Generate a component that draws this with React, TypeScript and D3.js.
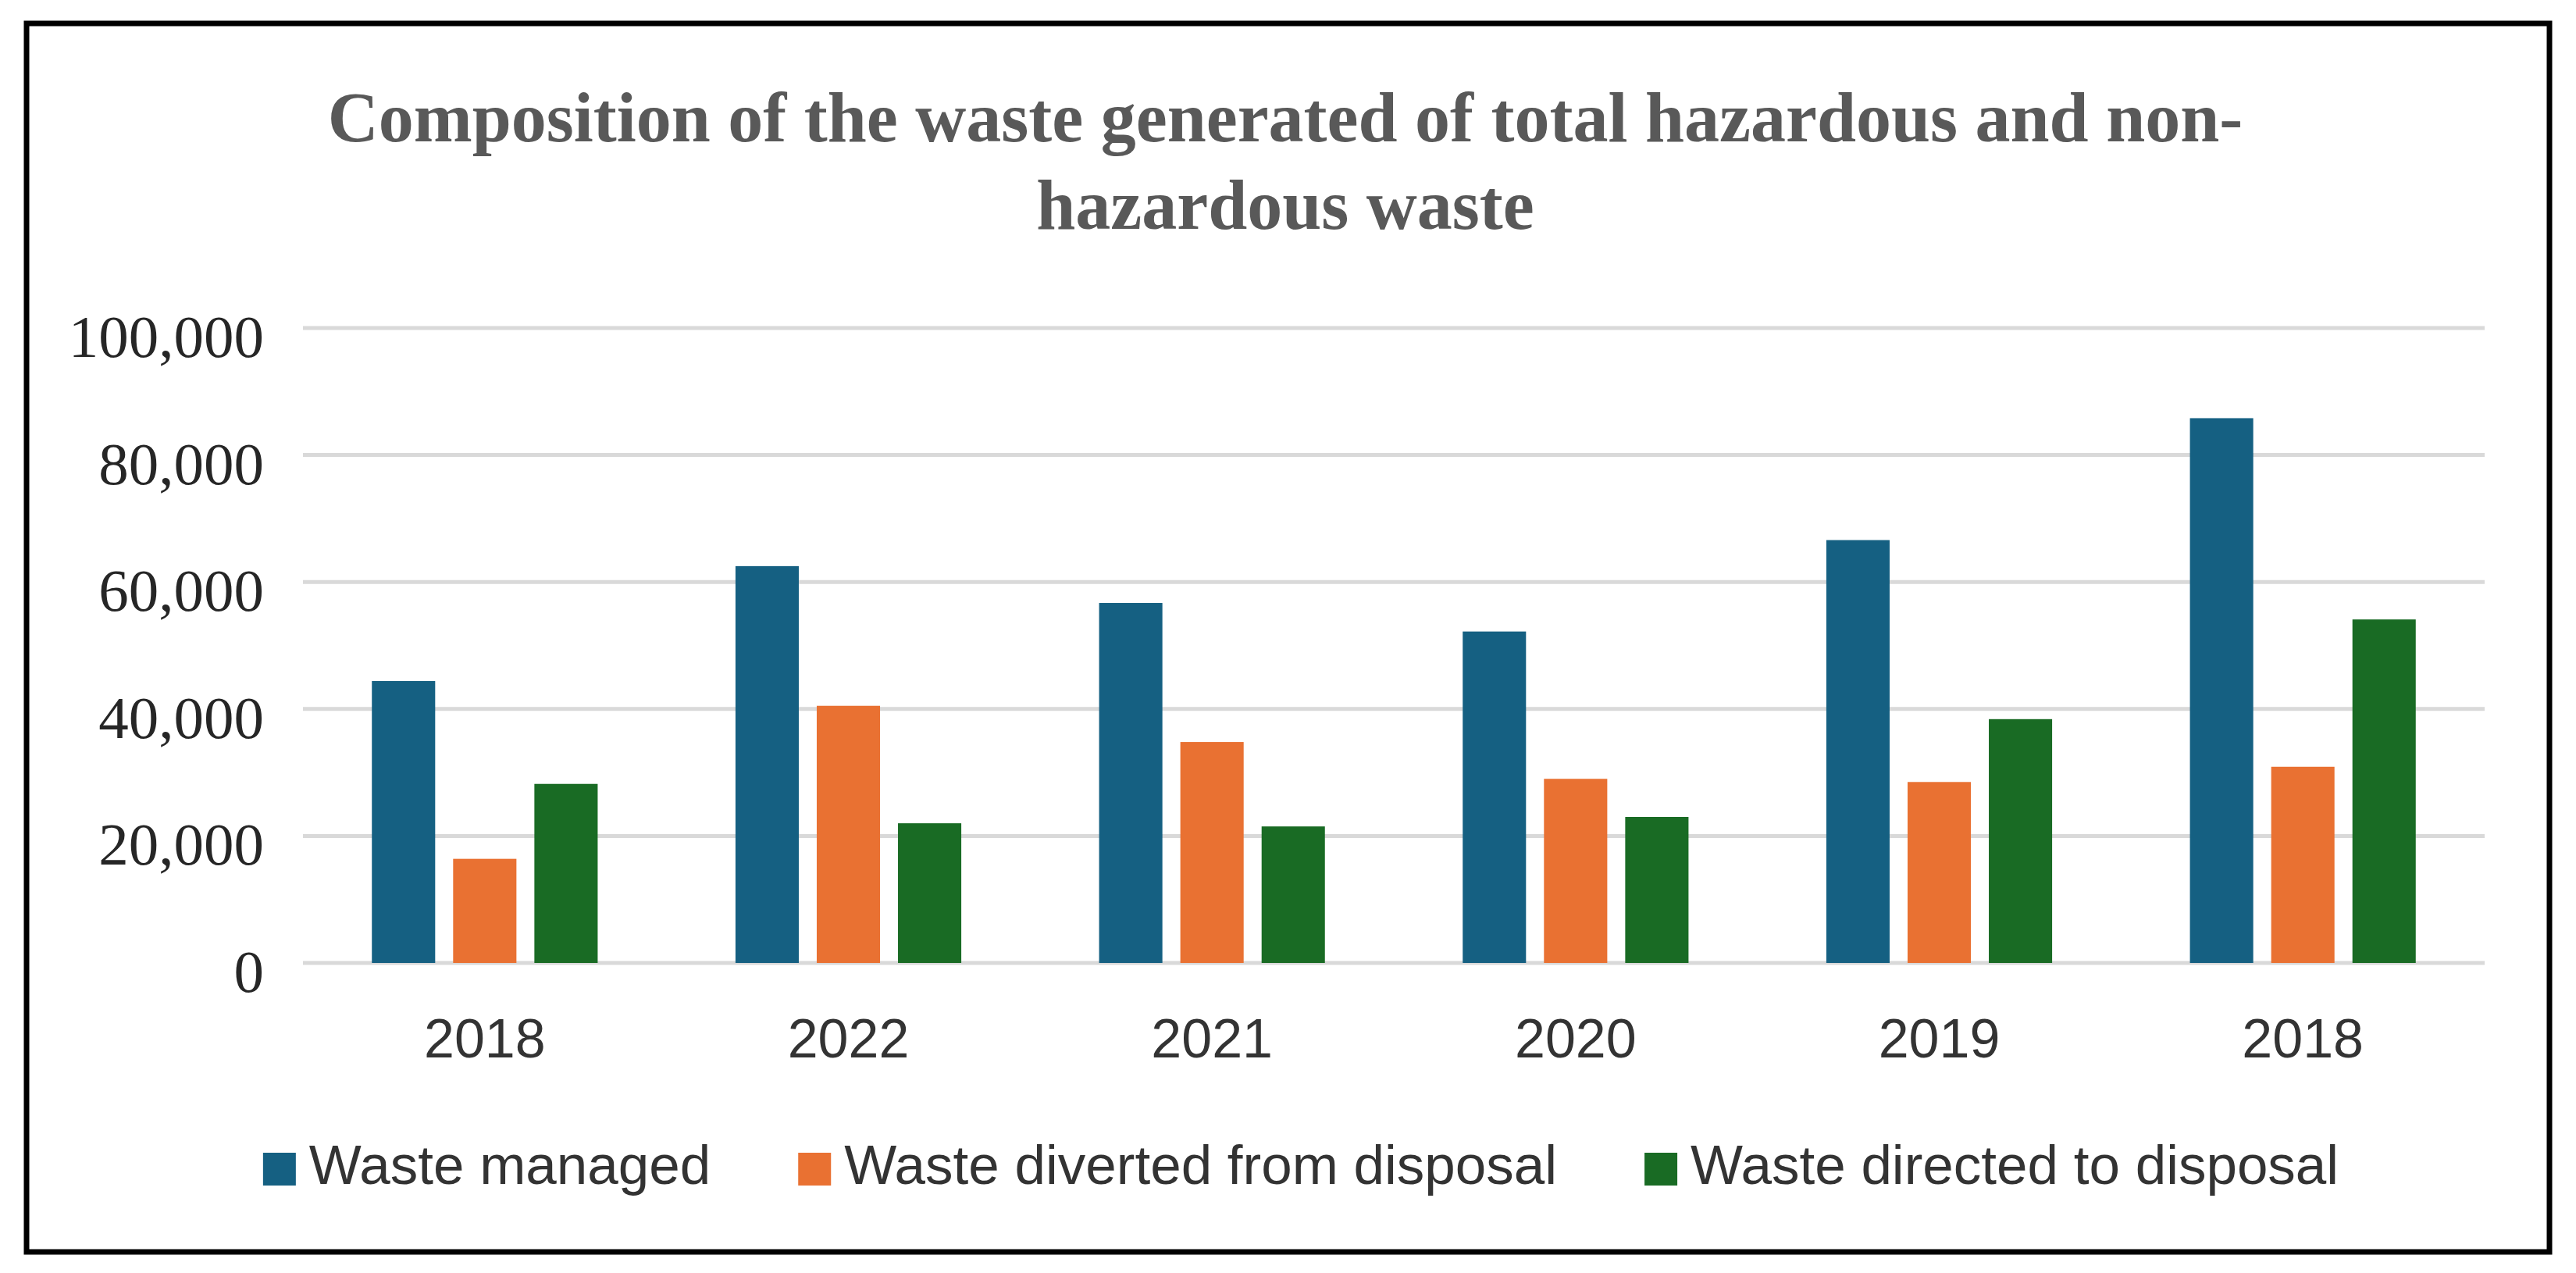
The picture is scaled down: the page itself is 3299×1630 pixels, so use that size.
import React, { useEffect, useRef } from "react";
import * as d3 from "d3";

const categories = ["2018", "2022", "2021", "2020", "2019", "2018"];
const seriesNames = ["Waste managed", "Waste diverted from disposal", "Waste directed to disposal"];
const wasteManaged = [44400, 62500, 56700, 52200, 66600, 85800];
const wasteDiverted = [16400, 40500, 34800, 29000, 28500, 30900];
const wasteDirected = [28200, 22000, 21500, 23000, 38400, 54100];
const seriesColors = ["#156082", "#E97132", "#196B24"];
const yTicks = [0, 20000, 40000, 60000, 80000, 100000];
const titleLines = ["Composition of the waste generated of total hazardous and non-", "hazardous waste"];

const W = 3299;
const H = 1630;

export default function App() {
  const ref = useRef<SVGSVGElement | null>(null);

  useEffect(() => {
    document.body.style.margin = "0";
    const svg = d3.select(ref.current);
    svg.selectAll("*").remove();

    svg.append("rect").attr("x", 0).attr("y", 0).attr("width", W).attr("height", H).attr("fill", "#fff");

    // frame
    svg.append("rect")
      .attr("x", 34).attr("y", 30).attr("width", 3265 - 34).attr("height", 1603 - 30)
      .attr("fill", "none").attr("stroke", "#000").attr("stroke-width", 7);

    // title
    svg.append("g").selectAll("text").data(titleLines).join("text")
      .attr("x", 1646).attr("y", (d, i) => 181 + i * 112)
      .attr("text-anchor", "middle")
      .attr("font-family", "'Liberation Serif', 'Times New Roman', serif")
      .attr("font-weight", "bold").attr("font-size", 90).attr("fill", "#595959")
      .text(d => d);

    const left = 388, right = 3182, top = 420, bottom = 1233;
    const y = d3.scaleLinear().domain([0, 100000]).range([bottom, top]);
    const idx = categories.map((_, i) => i);
    const x0 = d3.scaleBand<number>().domain(idx).range([left, right]).paddingInner(0.379).paddingOuter(0.1895);
    const x1 = d3.scaleBand<number>().domain([0, 1, 2]).range([0, x0.bandwidth()]).paddingInner(0.221);

    // gridlines
    svg.append("g").selectAll("line").data(yTicks).join("line")
      .attr("x1", left).attr("x2", right)
      .attr("y1", d => y(d)).attr("y2", d => y(d))
      .attr("stroke", "#d9d9d9").attr("stroke-width", 5);

    // y labels
    svg.append("g").selectAll("text").data(yTicks).join("text")
      .attr("x", 338).attr("y", d => y(d) + 37)
      .attr("text-anchor", "end")
      .attr("font-family", "'Liberation Serif', 'Times New Roman', serif")
      .attr("font-size", 77).attr("fill", "#262626")
      .text(d => d3.format(",")(d));

    // bars
    const seriesValues = [wasteManaged, wasteDiverted, wasteDirected];
    seriesValues.forEach((vals, s) => {
      svg.append("g").selectAll("rect").data(vals).join("rect")
        .attr("x", (d, i) => (x0(i) as number) + (x1(s) as number))
        .attr("width", x1.bandwidth())
        .attr("y", d => y(d))
        .attr("height", d => bottom - y(d))
        .attr("fill", seriesColors[s]);
    });

    // x labels
    svg.append("g").selectAll("text").data(categories).join("text")
      .attr("x", (d, i) => (x0(i) as number) + x0.bandwidth() / 2)
      .attr("y", 1354)
      .attr("text-anchor", "middle")
      .attr("font-family", "'Liberation Sans', Arial, sans-serif")
      .attr("font-size", 70).attr("fill", "#333")
      .text(d => d);

    // legend
    const lg = svg.append("g");
    const sq = 42, gapText = 17, gapItem = 112;
    const items = seriesNames.map((name, i) => {
      const g = lg.append("g");
      g.append("rect").attr("width", sq).attr("height", sq).attr("y", 1476).attr("fill", seriesColors[i]);
      const t = g.append("text").attr("x", sq + gapText).attr("y", 1516)
        .attr("font-family", "'Liberation Sans', Arial, sans-serif")
        .attr("font-size", 71).attr("fill", "#333").text(name);
      const w = (t.node() as SVGTextElement).getComputedTextLength();
      return { g, w: sq + gapText + w };
    });
    const total = d3.sum(items, d => d.w) + gapItem * (items.length - 1);
    let cx = 1666 - total / 2;
    items.forEach(it => {
      it.g.attr("transform", `translate(${cx},0)`);
      cx += it.w + gapItem;
    });
  }, []);

  return <svg ref={ref} width={W} height={H} style={{ display: "block" }} />;
}
